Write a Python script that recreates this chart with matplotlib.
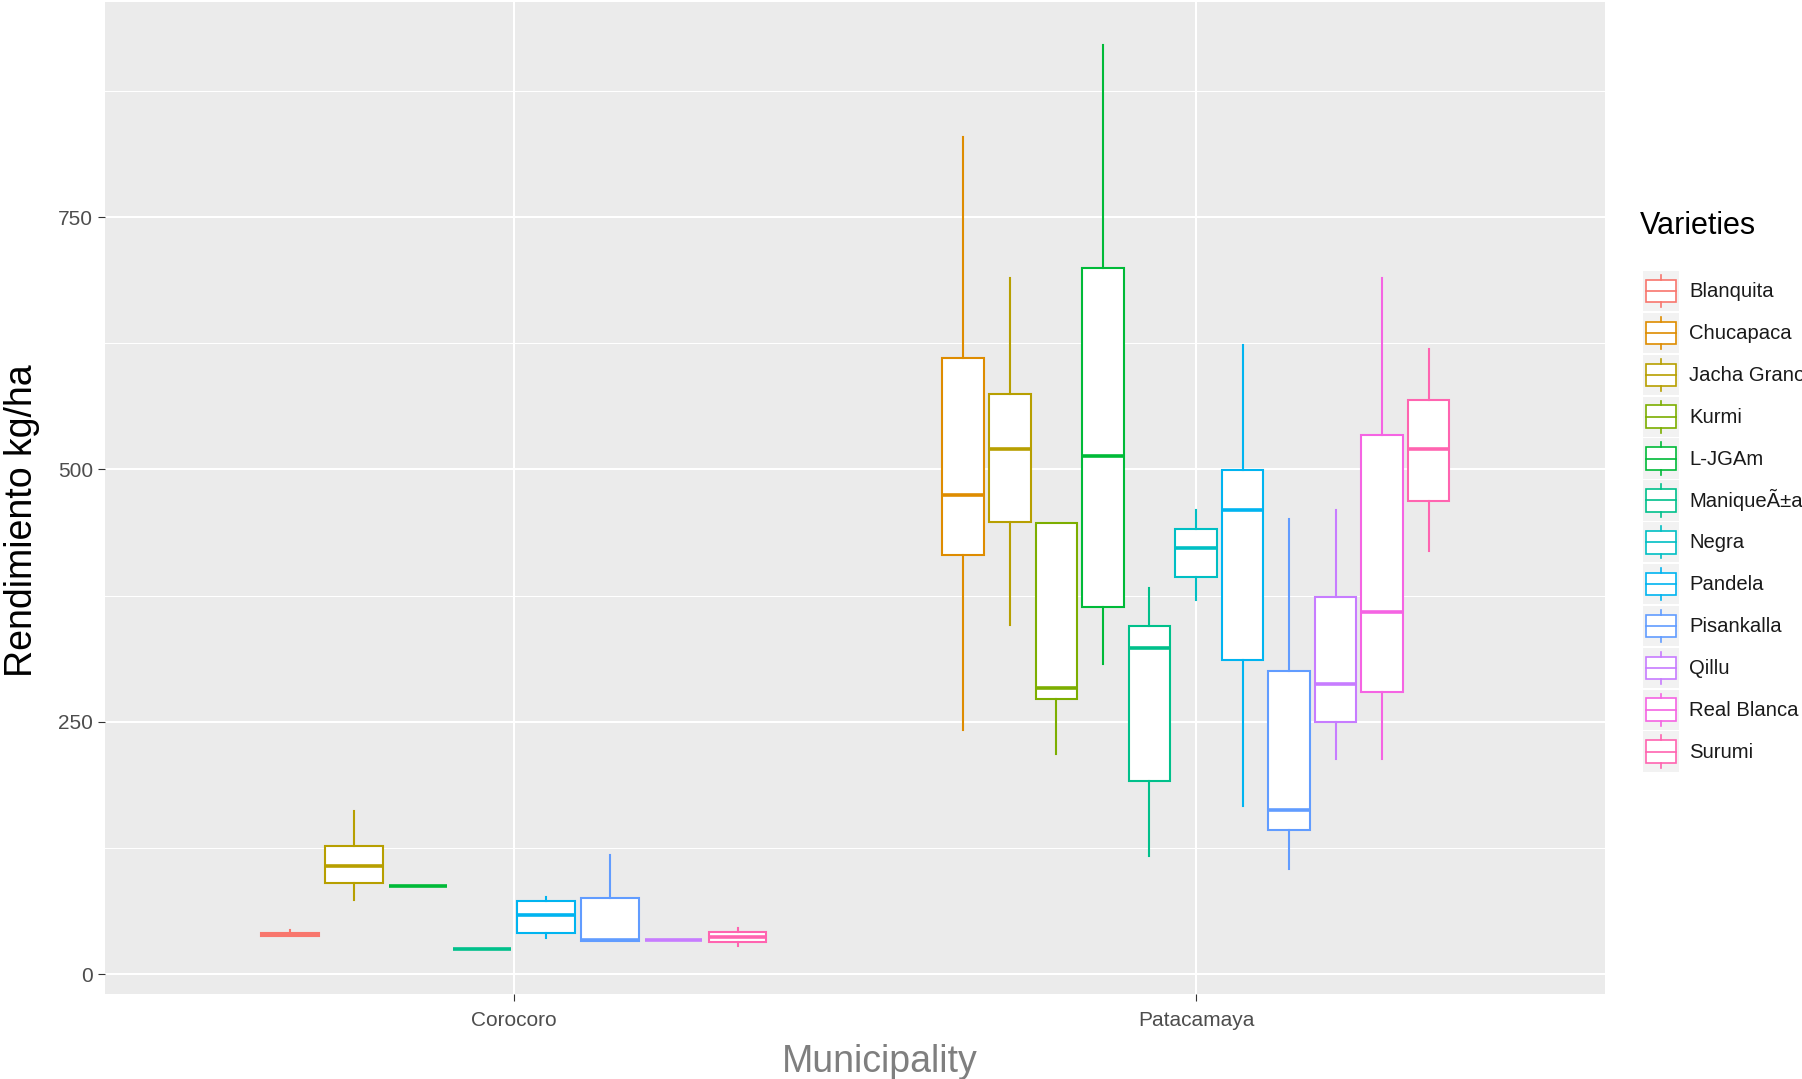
import matplotlib
matplotlib.use("Agg")
import matplotlib.pyplot as plt
from matplotlib.patches import Rectangle, Patch
from matplotlib.lines import Line2D
from matplotlib.legend_handler import HandlerBase

plt.rcParams['font.family'] = ['Liberation Sans', 'DejaVu Sans']

varieties = ["Blanquita", "Chucapaca", "Jacha Grano", "Kurmi", "L-JGAm", "ManiqueÃ±a",
             "Negra", "Pandela", "Pisankalla", "Qillu", "Real Blanca", "Surumi"]
colors = ["#F8766D", "#DE8C00", "#B79F00", "#7CAE00", "#00BA38", "#00C08B",
          "#00BFC4", "#00B4F0", "#619CFF", "#C77CFF", "#F564E3", "#FF64B0"]
municipalities = ["Corocoro", "Patacamaya"]

# Corocoro box stats (kg/ha)
coro_vars = ["Blanquita", "Jacha Grano", "L-JGAm", "ManiqueÃ±a",
             "Pandela", "Pisankalla", "Qillu", "Surumi"]
coro_low = [38, 74, 87, 25, 36, 33, 34, 28]
coro_q1 = [38, 90, 87, 25, 41, 33, 34, 32]
coro_med = [40, 107, 87, 25, 59, 34, 34, 37]
coro_q3 = [41, 127, 87, 25, 73, 76, 34, 42]
coro_high = [44, 162, 87, 25, 77, 118, 34, 46]

# Patacamaya box stats (kg/ha)
pata_vars = ["Chucapaca", "Jacha Grano", "Kurmi", "L-JGAm", "ManiqueÃ±a", "Negra",
             "Pandela", "Pisankalla", "Qillu", "Real Blanca", "Surumi"]
pata_low = [242, 346, 218, 307, 117, 371, 167, 104, 213, 213, 419]
pata_q1 = [415, 448, 273, 364, 191, 394, 311, 143, 250, 280, 469]
pata_med = [475, 520, 284, 513, 323, 422, 460, 163, 288, 359, 520]
pata_q3 = [610, 575, 447, 700, 345, 441, 499, 300, 374, 534, 569]
pata_high = [829, 690, 447, 920, 383, 460, 623, 451, 460, 690, 619]

groups = [
    (coro_vars, coro_low, coro_q1, coro_med, coro_q3, coro_high),
    (pata_vars, pata_low, pata_q1, pata_med, pata_q3, pata_high),
]

W, H = 1802, 1079
fig, ax = plt.subplots(figsize=(W / 100, H / 100), dpi=100)
fig.subplots_adjust(left=104.5 / W, right=1605.3 / W, bottom=1 - 994.3 / H, top=1 - 1.7 / H)

ax.set_facecolor("#EBEBEB")
for s in ax.spines.values():
    s.set_visible(False)
ax.set_axisbelow(True)

# dodged boxes, 0.75 of the category width shared by the varieties present
for m, (names, lo, q1, med, q3, hi) in enumerate(groups):
    n = len(names)
    slot = 0.75 / n
    for i, name in enumerate(names):
        c = colors[varieties.index(name)]
        pos = m + 1 + (i - (n - 1) / 2) * slot
        stat = dict(whislo=lo[i], q1=q1[i], med=med[i], q3=q3[i], whishi=hi[i], fliers=[])
        ax.bxp([stat], positions=[pos], widths=0.9 * slot, showcaps=False,
               showfliers=False, patch_artist=True, manage_ticks=False,
               boxprops=dict(facecolor="white", edgecolor=c, linewidth=1.5),
               medianprops=dict(color=c, linewidth=2.6, solid_capstyle="butt"),
               whiskerprops=dict(color=c, linewidth=1.5))

ax.set_xlim(0.4, 2.6)
ax.set_ylim(-19.8, 963.3)
ax.set_xticks([1, 2], municipalities)
ax.set_yticks([0, 250, 500, 750])
ax.set_yticks([125, 375, 625, 875], minor=True)
ax.grid(which="major", color="white", linewidth=1.45)
ax.grid(which="minor", axis="y", color="white", linewidth=0.72)
ax.tick_params(which="major", length=4.7, width=0.8, color="#333333",
               labelsize=15, labelcolor="#4D4D4D", pad=3.6)
ax.tick_params(axis="x", which="major", pad=7.6)
ax.tick_params(which="minor", length=0)

ax.set_ylabel("Rendimiento kg/ha", fontsize=27, color="black")
ax.yaxis.set_label_coords(-0.043, 0.477)
ax.set_xlabel("Municipality", fontsize=27, color="#7F7F7F")
ax.xaxis.set_label_coords(0.5167, -0.0783)
ax.xaxis.label.set_va("baseline")


class BoxKey(HandlerBase):
    def create_artists(self, legend, orig_handle, xdescent, ydescent, width, height, fontsize, trans):
        c = orig_handle.get_edgecolor()
        x0, y0 = -xdescent, -ydescent
        bg = Rectangle((x0, y0), width, height, facecolor="#F2F2F2", edgecolor="none", transform=trans)
        box = Rectangle((x0 + 0.08 * width, y0 + 0.22 * height), 0.84 * width, 0.56 * height,
                        facecolor="white", edgecolor=c, linewidth=1.2, transform=trans)
        mid = y0 + 0.5 * height
        med = Line2D([x0 + 0.08 * width, x0 + 0.92 * width], [mid, mid], color=c, lw=1.2, transform=trans)
        xm = x0 + 0.5 * width
        up = Line2D([xm, xm], [y0 + 0.78 * height, y0 + 0.9 * height], color=c, lw=1.2, transform=trans)
        dn = Line2D([xm, xm], [y0 + 0.1 * height, y0 + 0.22 * height], color=c, lw=1.2, transform=trans)
        return [bg, box, med, up, dn]


handles = [Patch(facecolor="white", edgecolor=c, label=v) for v, c in zip(varieties, colors)]
fig.legend(handles=handles, handler_map={Patch: BoxKey()}, loc="upper left",
           bbox_to_anchor=(1642.7 / W, 1 - 271 / H), frameon=False, borderpad=0,
           borderaxespad=0, fontsize=14.6, handlelength=1.78, handleheight=2.68,
           labelspacing=0.077, handletextpad=0.5, labelcolor="#1A1A1A")
fig.text(1640 / W, 1 - 233.6 / H, "Varieties", fontsize=22, va="baseline", ha="left", color="black")

fig.savefig("out.png", dpi=100)
